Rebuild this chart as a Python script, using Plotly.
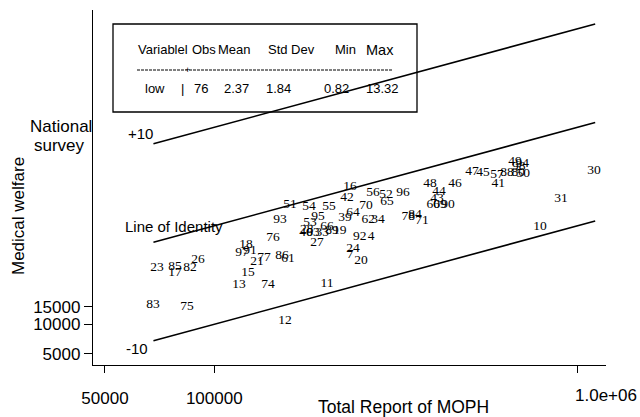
import plotly.graph_objects as go

# ---- data ----
labels = ["23", "85", "17", "82", "26", "83", "75", "13", "74", "15",
          "21", "77", "86", "61", "76", "18", "97", "91", "93", "51",
          "54", "55", "16", "42", "56", "52", "65", "96", "70", "64",
          "39", "62", "34", "78", "84", "71", "48", "44", "43", "60",
          "69", "90", "46", "47", "45", "57", "41", "88", "80", "50",
          "49", "94", "98", "30", "31", "10", "95", "53", "28", "40",
          "66", "63", "33", "89", "19", "92", "4", "24", "7", "20",
          "27", "11", "12"]
moph = [69500, 77900, 77900, 85800, 90200, 67800, 84100, 117000, 140600, 123900,
        131200, 137100, 153700, 159600, 145200, 122300, 119200, 125400, 151800, 161700,
        182300, 207000, 236600, 232100, 273500, 297200, 299200, 331100, 261800, 241000,
        229100, 265400, 282500, 342000, 357300, 373400, 392700, 415900, 411000, 400900,
        418800, 440600, 460300, 512900, 549600, 601200, 605300, 640300, 687100, 709600,
        673000, 704700, 690200, 1111000, 901600, 789000, 193200, 183500, 179900, 179000,
        204500, 187100, 198200, 210900, 221800, 251800, 270300, 241000, 236600, 253500,
        191900, 204500, 156700]
survey = [37300, 38200, 33200, 37300, 45000, 15700, 15000, 25100, 25100, 33200,
          43000, 47200, 49400, 46000, 75300, 63900, 53000, 55600, 114600, 162900,
          155300, 155300, 247800, 191900, 215800, 205600, 174600, 215800, 159200, 134900,
          120200, 114600, 114600, 123000, 128800, 111900, 266100, 220800, 187500, 162900,
          162900, 162900, 266100, 352400, 344400, 328100, 266100, 344400, 344400, 335700,
          444600, 424600, 395500, 360600, 187500, 97300, 123000, 106900, 90800, 84600,
          97300, 84600, 84600, 88700, 88700, 77100, 77100, 58200, 50600, 44000,
          67000, 25700, 10800]

ref_x = [68000, 1120000]
identity_y = [68000, 1120000]
plus10_y = [680000, 11200000]
minus10_y = [6800, 112000]

x_tickvals = [50000, 100000, 1000000]
x_ticktext = ["50000", "100000", ""]
y_tickvals = [5000, 10000, 15000]
y_ticktext = ["5000", "10000", "15000"]

stats_header = ["Variablel", "Obs", "Mean", "Std Dev", "Min", "Max"]
stats_row = ["low", "|", "76", "2.37", "1.84", "0.82", "13.32"]

# ---- layout helpers ----
W, H = 640, 417
L, R, T, B = 93, 34, 10, 52


def fx(px):
    return (px - L) / (W - L - R)


def fy(py):
    return (H - B - py) / (H - T - B)


SANS = "Liberation Sans, Arial, Helvetica, sans-serif"
SERIF = "Liberation Serif, Times New Roman, serif"

fig = go.Figure()
for yy in (identity_y, plus10_y, minus10_y):
    fig.add_trace(go.Scatter(x=ref_x, y=yy, mode="lines",
                             line=dict(color="black", width=1.6),
                             showlegend=False, hoverinfo="skip"))

fig.add_trace(go.Scatter(x=moph, y=survey, mode="text", text=labels,
                         textposition="middle center",
                         textfont=dict(family=SERIF, size=13.5, color="black"),
                         showlegend=False))

ann = []


def add(text, px, py, size, family=SANS, **kw):
    ann.append(dict(text=text, x=fx(px), y=fy(py), xref="paper", yref="paper",
                    showarrow=False, xanchor="center", yanchor="middle",
                    borderpad=0,
                    font=dict(family=family, size=size, color="black"), **kw))


# stats box text
hdr_x = [163, 204, 234, 291, 345, 380]
hdr_sz = [13, 13, 13, 13, 13, 14.5]
for t, x, s in zip(stats_header, hdr_x, hdr_sz):
    add(t, x, 50, s)
row_x = [155, 182, 201, 236, 278, 336, 382]
for t, x in zip(stats_row, row_x):
    add(t, x, 88, 13)
add("+", 187, 70, 9)

# line labels
add("+10", 140, 133, 15)
add("-10", 137, 348, 15)
add("Line of Identity", 174, 226, 15)
add("National", 61, 126, 17)
add("survey", 59, 145, 17)
add("Medical welfare", 18, 216, 17, textangle=-90)
add("Total Report of MOPH", 403, 407, 17.5)
add("1.0e+06", 606, 396, 17)

shapes = [
    dict(type="rect", xref="paper", yref="paper", x0=fx(113), x1=fx(417),
         y0=fy(112), y1=fy(24), line=dict(color="black", width=1.3)),
    dict(type="line", xref="paper", yref="paper", x0=fx(137), x1=fx(393),
         y0=fy(70), y1=fy(70), line=dict(color="black", width=1, dash="3px,1px")),
]

fig.update_layout(
    width=W, height=H,
    margin=dict(l=L, r=R, t=T, b=B, pad=0),
    paper_bgcolor="white", plot_bgcolor="white",
    annotations=ann, shapes=shapes, showlegend=False,
    xaxis=dict(type="log", range=[4.666, 6.079], showgrid=False, zeroline=False,
               showline=True, linecolor="black", linewidth=1.3,
               ticks="outside", ticklen=7, tickwidth=1.2, tickcolor="black",
               tickvals=x_tickvals, ticktext=x_ticktext,
               tickfont=dict(family=SANS, size=17, color="black"),
               ticklabelstandoff=10, automargin=False),
    yaxis=dict(type="log", range=[3.587, 7.191], showgrid=False, zeroline=False,
               showline=True, linecolor="black", linewidth=1.3,
               ticks="outside", ticklen=8, tickwidth=1.2, tickcolor="black",
               tickvals=y_tickvals, ticktext=y_ticktext,
               tickfont=dict(family=SANS, size=17, color="black"),
               automargin=False),
)

fig.write_html("out.html")
